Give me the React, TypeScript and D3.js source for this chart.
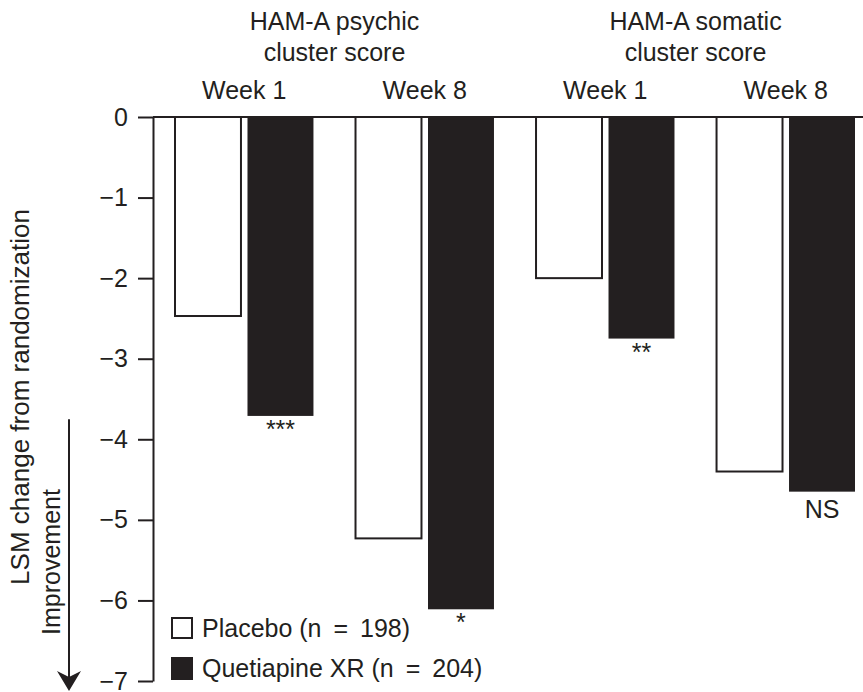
import React, { useEffect, useRef } from "react";
import * as d3 from "d3";

// data
const groupKeys = ["psychic-w1", "psychic-w8", "somatic-w1", "somatic-w8"];
const weekLabels = ["Week 1", "Week 8", "Week 1", "Week 8"];
const clusterLines = [
    ["HAM-A psychic", "cluster score"],
    ["HAM-A somatic", "cluster score"],
];
const seriesNames = ["Placebo (n \u2009=\u2009 198)", "Quetiapine XR (n \u2009=\u2009 204)"];
const placebo = [-2.47, -5.23, -2.0, -4.4];
const quetiapine = [-3.71, -6.11, -2.75, -4.65];
const significance = ["***", "*", "**", "NS"];
const yTicks = [0, -1, -2, -3, -4, -5, -6, -7];

const ink = "#231f20";
const font = "'Liberation Sans', Arial, Helvetica, sans-serif";
const fs = 25;

const Chart = () => {
    const ref = useRef<SVGSVGElement>(null);

    useEffect(() => {
        const svg = d3.select(ref.current);
        svg.selectAll("*").remove();

        const width = 863;
        const height = 692;
        const margin = { top: 117, right: 8, bottom: 11, left: 153 };

        svg.attr("width", width).attr("height", height);

        const y = d3
            .scaleLinear()
            .domain([0, -7])
            .range([margin.top, height - margin.bottom]);

        const x0 = d3
            .scaleBand()
            .domain(groupKeys)
            .range([margin.left + 22, width - margin.right])
            .paddingInner(0.233)
            .paddingOuter(0);

        const x1 = d3
            .scaleBand()
            .domain(["placebo", "quetiapine"])
            .range([0, x0.bandwidth()])
            .paddingInner(0.09);

        const rows = groupKeys.map((k, i) => ({
            key: k,
            placebo: placebo[i],
            quetiapine: quetiapine[i],
            sig: significance[i],
            week: weekLabels[i],
        }));

        // placebo bars (open)
        svg.append("g")
            .selectAll("rect")
            .data(rows)
            .join("rect")
            .attr("x", (d) => x0(d.key)! + x1("placebo")!)
            .attr("y", y(0))
            .attr("width", x1.bandwidth())
            .attr("height", (d) => y(d.placebo) - y(0))
            .attr("fill", "#fff")
            .attr("stroke", ink)
            .attr("stroke-width", 2);

        // quetiapine bars (filled)
        svg.append("g")
            .selectAll("rect")
            .data(rows)
            .join("rect")
            .attr("x", (d) => x0(d.key)! + x1("quetiapine")!)
            .attr("y", y(0))
            .attr("width", x1.bandwidth())
            .attr("height", (d) => y(d.quetiapine) - y(0))
            .attr("fill", ink);

        // significance marks under the quetiapine bars
        svg.append("g")
            .selectAll("text")
            .data(rows)
            .join("text")
            .attr("x", (d) => x0(d.key)! + x1("quetiapine")! + x1.bandwidth() / 2)
            .attr("y", (d) => y(d.quetiapine) + (d.sig === "NS" ? 26 : 22))
            .attr("text-anchor", "middle")
            .attr("font-family", font)
            .attr("font-size", fs)
            .attr("fill", ink)
            .text((d) => d.sig);

        // y axis
        const axis = svg
            .append("g")
            .attr("transform", `translate(${margin.left},0)`)
            .call(
                d3
                    .axisLeft(y)
                    .tickValues(yTicks)
                    .tickSize(15)
                    .tickSizeOuter(0)
                    .tickPadding(10)
                    .tickFormat((d) => (d === 0 ? "0" : "\u2212" + Math.abs(+d)))
            );
        axis.select(".domain").attr("stroke", ink).attr("stroke-width", 2);
        axis.selectAll(".tick line").attr("stroke", ink).attr("stroke-width", 2);
        axis.selectAll(".tick text")
            .attr("font-family", font)
            .attr("font-size", fs)
            .attr("fill", ink);

        // zero line across the top
        svg.append("line")
            .attr("x1", margin.left)
            .attr("x2", width)
            .attr("y1", y(0))
            .attr("y2", y(0))
            .attr("stroke", ink)
            .attr("stroke-width", 2);

        // week labels
        svg.append("g")
            .selectAll("text")
            .data(rows)
            .join("text")
            .attr("x", (d) => x0(d.key)! + x0.bandwidth() / 2)
            .attr("y", 99)
            .attr("text-anchor", "middle")
            .attr("font-family", font)
            .attr("font-size", fs)
            .attr("fill", ink)
            .text((d) => d.week);

        // cluster titles
        clusterLines.forEach((lines, ci) => {
            const a = x0(groupKeys[ci * 2])!;
            const b = x0(groupKeys[ci * 2 + 1])! + x0.bandwidth();
            svg.append("text")
                .attr("x", (a + b) / 2)
                .attr("y", 30)
                .attr("text-anchor", "middle")
                .attr("font-family", font)
                .attr("font-size", fs)
                .attr("fill", ink)
                .selectAll("tspan")
                .data(lines)
                .join("tspan")
                .attr("x", (a + b) / 2)
                .attr("dy", (d, i) => (i === 0 ? 0 : 31))
                .text((d) => d);
        });

        // y axis title
        svg.append("text")
            .attr("transform", `translate(29,${397}) rotate(-90)`)
            .attr("text-anchor", "middle")
            .attr("font-family", font)
            .attr("font-size", 26)
            .attr("fill", ink)
            .text("LSM change from randomization");

        svg.append("text")
            .attr("transform", `translate(60,${562}) rotate(-90)`)
            .attr("text-anchor", "middle")
            .attr("font-family", font)
            .attr("font-size", fs)
            .attr("fill", ink)
            .text("Improvement");

        // improvement arrow
        const ax = 69;
        const tip = y(-7) + 10;
        svg.append("line")
            .attr("x1", ax)
            .attr("x2", ax)
            .attr("y1", y(-3.75))
            .attr("y2", tip - 14)
            .attr("stroke", ink)
            .attr("stroke-width", 2);
        svg.append("path")
            .attr("d", `M${ax - 12},${tip - 20} L${ax},${tip - 14} L${ax + 12},${tip - 20} L${ax},${tip} Z`)
            .attr("fill", ink);

        // legend
        const legend = svg.append("g").attr("transform", "translate(171,617)");
        legend.append("rect")
            .attr("x", 1)
            .attr("y", 1)
            .attr("width", 20)
            .attr("height", 20)
            .attr("fill", "#fff")
            .attr("stroke", ink)
            .attr("stroke-width", 2);
        legend.append("rect")
            .attr("x", 0)
            .attr("y", 40)
            .attr("width", 22)
            .attr("height", 23)
            .attr("fill", ink);
        legend.selectAll("text.lab")
            .data(seriesNames)
            .join("text")
            .attr("class", "lab")
            .attr("x", 31)
            .attr("y", (d, i) => 20 + i * 40)
            .attr("font-family", font)
            .attr("font-size", fs)
            .attr("fill", ink)
            .text((d) => d);
    }, []);

    return <svg ref={ref} style={{ display: "block" }}></svg>;
};

export default function App() {
    return (
        <>
            <style>{`body{margin:0;background:#fff}`}</style>
            <Chart />
        </>
    );
}
